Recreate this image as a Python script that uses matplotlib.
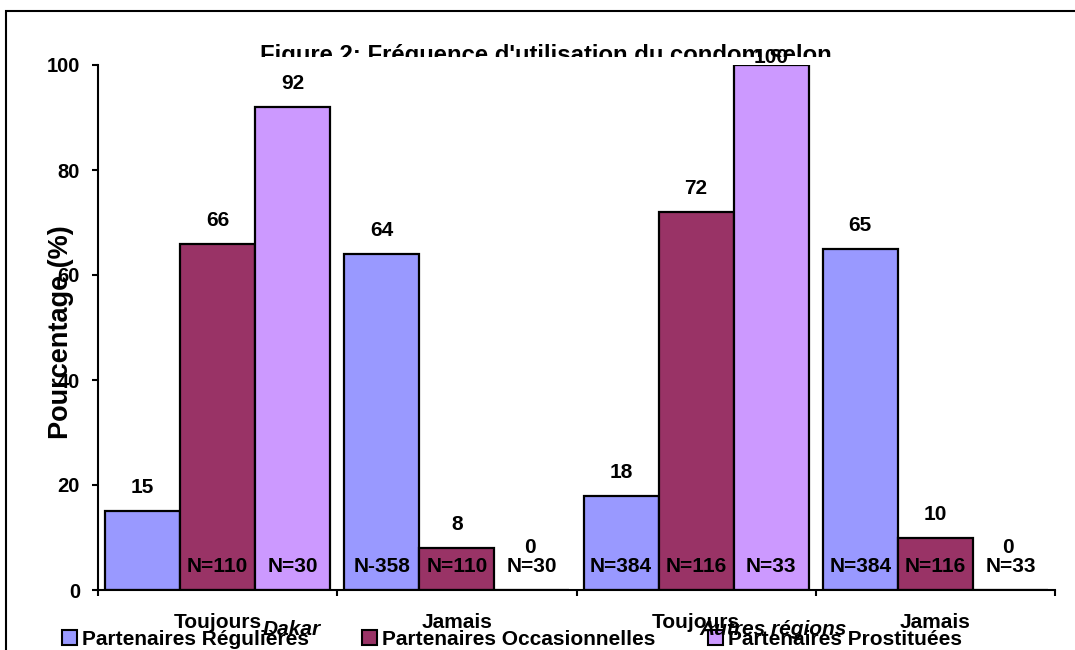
import matplotlib
matplotlib.use("Agg")
import matplotlib.pyplot as plt
from matplotlib.patches import Rectangle
from matplotlib.transforms import Bbox
import numpy as np

plt.rcParams['font.family'] = ['Liberation Sans', 'DejaVu Sans']
plt.rcParams['font.weight'] = 'bold'

# ---- data ----
categories = ["Toujours", "Jamais", "Toujours", "Jamais"]
regions = ["Dakar", "Autres régions"]
series_names = ["Partenaires Régulières", "Partenaires Occasionnelles", "Partenaires Prostituées"]
regulieres = [15, 64, 18, 65]
occasionnelles = [66, 8, 72, 10]
prostituees = [92, 0, 100, 0]
n_regulieres = ["", "N-358", "N=384", "N=384"]
n_occasionnelles = ["N=110", "N=110", "N=116", "N=116"]
n_prostituees = ["N=30", "N=30", "N=33", "N=33"]
y_ticks = [0, 20, 40, 60, 80, 100]
title = "Figure 2: Fréquence d'utilisation du condom selon"
y_label = "Pourcentage (%)"

colors = ["#9999FF", "#993366", "#CC99FF"]

W, H = 1075, 650
fig = plt.figure(figsize=(W / 100, H / 100), dpi=100)
fig.patch.set_facecolor("white")

# plot area in pixels: left 98, right 1055, top 65, bottom 590
ax = fig.add_axes([98 / W, 1 - 590 / H, (1055 - 98) / W, (590 - 65) / H])
ax.set_facecolor("none")

values = [regulieres, occasionnelles, prostituees]
n_texts = [n_regulieres, n_occasionnelles, n_prostituees]
x = np.arange(len(categories))
bw = 0.3135
offsets = [-bw, 0, bw]
ymax = 100

for vals, ns, off, col in zip(values, n_texts, offsets, colors):
    xs = x + off
    ax.bar(xs, vals, width=bw, color=col, edgecolor="black", linewidth=1.6, zorder=2)
    for xi, v, nt in zip(xs, vals, ns):
        # sample size written near the base of the bar
        if nt:
            ax.annotate(nt, xy=(xi, 0), xytext=(0, 18), textcoords="offset pixels",
                        ha="center", va="baseline", fontsize=15, fontweight="bold", zorder=4)
        # value label above the bar, kept inside the plot top
        if v == 0:
            ax.annotate(f"{v}", xy=(xi, 0), xytext=(-2, 37), textcoords="offset pixels",
                        ha="center", va="baseline", fontsize=15, fontweight="bold", zorder=4)
        else:
            ytxt = min(v + 18 / 5.25, ymax + 2 / 5.25)
            ax.text(xi, ytxt, f"{v}", ha="center", va="baseline",
                    fontsize=15, fontweight="bold", zorder=4)

ax.set_xlim(-0.5, 3.5)
ax.set_ylim(0, ymax)
for s in ["top", "right"]:
    ax.spines[s].set_visible(False)
for s in ["left", "bottom"]:
    ax.spines[s].set_linewidth(1.5)

ax.set_yticks(y_ticks)
ax.set_yticklabels([str(t) for t in y_ticks], fontsize=14.5, fontweight="bold")
ax.tick_params(axis="y", direction="out", length=4.3, width=1.5, pad=8.6)

# group separators as ticks, category names centred under each group
ax.set_xticks(np.arange(-0.5, 4.0, 1.0))
ax.set_xticklabels([])
ax.tick_params(axis="x", direction="out", length=4.3, width=1.5)
for xi, c in zip(x, categories):
    ax.annotate(c, xy=(xi, 0), xycoords=("data", "axes fraction"), xytext=(0, -38),
                textcoords="offset pixels", ha="center", va="baseline",
                fontsize=15, fontweight="bold", annotation_clip=False)

# region names
for rx, r in zip([292, 773], regions):
    fig.text(rx / W, 1 - 635 / H, r, ha="center", va="baseline", fontsize=15,
             fontweight="bold", fontstyle="italic")

# y-axis label
fig.text(61 / W, 1 - 332 / H, y_label, rotation=90, ha="center", va="center",
         fontsize=19.5, fontweight="bold")

# title, cut along its lower edge
t = fig.text(546 / W, 1 - 62 / H, title, ha="center", va="baseline",
             fontsize=17.2, fontweight="bold", zorder=1)
t.set_clip_box(Bbox.from_extents(0, H - 57, W, H))
t.set_clip_on(True)

# legend row
for lx, name, col in zip([62, 362, 708], series_names, colors):
    fig.patches.append(Rectangle((lx / W, 1 - 645 / H), 15 / W, 15 / H,
                                 transform=fig.transFigure, facecolor=col,
                                 edgecolor="black", linewidth=1.5))
    fig.text((lx + 20) / W, 1 - 645 / H, name, ha="left", va="baseline",
             fontsize=15, fontweight="bold")

# outer frame
fig.patches.append(Rectangle((5.8 / W, -0.2), 1.3, 1.2 - 10.8 / H,
                             transform=fig.transFigure, fill=False,
                             edgecolor="black", linewidth=1.5))

fig.savefig("out.png", dpi=100)
